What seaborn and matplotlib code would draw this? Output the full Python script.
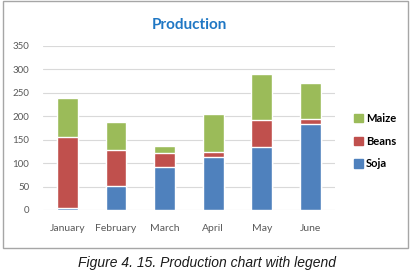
import numpy as np
import pandas as pd
import matplotlib
matplotlib.use('Agg')
import matplotlib.pyplot as plt
import seaborn as sns
from matplotlib.patches import Rectangle, Patch

# data
months = ['January', 'February', 'March', 'April', 'May', 'June']
soja = [5, 52, 91, 113, 134, 184]
beans = [150, 77, 31, 11, 59, 10]
maize = [85, 58, 15, 80, 97, 76]
yticks = [0, 50, 100, 150, 200, 250, 300, 350]

colors = {'Soja': '#4F81BD', 'Beans': '#C0504D', 'Maize': '#9BBB59'}

df = pd.DataFrame({'month': months, 'Soja': soja, 'Beans': beans, 'Maize': maize})
# cumulative heights so the layers stack when drawn back to front
df['top_beans'] = df['Soja'] + df['Beans']
df['top_maize'] = df['top_beans'] + df['Maize']

sns.set_theme(style='white')
plt.rcParams['font.family'] = ['Lato', 'DejaVu Sans']

fig = plt.figure(figsize=(4.14, 2.77), dpi=100)
ax = fig.add_axes([0.104, 0.242, 0.705, 0.592])

for col, name in [('top_maize', 'Maize'), ('top_beans', 'Beans'), ('Soja', 'Soja')]:
    sns.barplot(data=df, x='month', y=col, color=colors[name], width=0.43,
                saturation=1, ax=ax, zorder=3)

ax.set_ylim(0, 350)
ax.set_yticks(yticks)
ax.set_xlim(-0.5, len(months) - 0.5)
ax.grid(axis='y', color='#D9D9D9', linewidth=0.8, zorder=0)
sns.despine(ax=ax, left=True, bottom=True)
ax.set_xlabel('')
ax.set_ylabel('')
ax.tick_params(axis='y', length=0, pad=10, labelsize=7, labelcolor='#595959')
ax.tick_params(axis='x', length=0, pad=10, labelsize=7.5, labelcolor='#595959')

ax.set_title('Production', fontsize=11, fontweight='bold', color='#1F77C4', pad=12)

handles = [Patch(color=colors[n]) for n in ['Maize', 'Beans', 'Soja']]
fig.legend(handles, ['Maize', 'Beans', 'Soja'], loc='center left',
           bbox_to_anchor=(0.83, 0.49), frameon=False,
           handlelength=0.8, handleheight=0.8, handletextpad=0.3,
           labelspacing=1.05, labelcolor='black', prop={'weight': 'bold', 'size': 8})

# chart border
fig.patches.append(Rectangle((0.008, 0.105), 0.978, 0.893, transform=fig.transFigure,
                             fill=False, edgecolor='#A6A6A6', linewidth=1.0))

fig.text(0.5, 0.05, 'Figure 4. 15. Production chart with legend', ha='center', va='center',
         fontsize=10, style='italic', family=['Liberation Sans', 'DejaVu Sans'], color='#1a1a1a')

fig.savefig('out.png', dpi=100)
